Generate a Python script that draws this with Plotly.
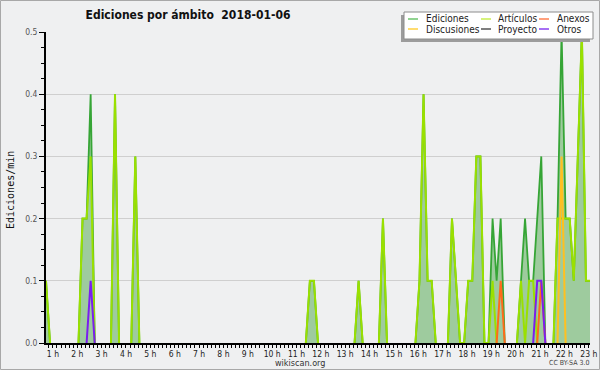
import plotly.graph_objects as go

# ---- data (10-minute samples, edits/min) ----
T0 = 43 / 60          # time of first sample, hours
STEP = 1 / 6          # 10 minutes

ediciones = [
    0.1, 0, 0, 0, 0, 0, 0, 0, 0, 0.2, 0.2, 0.4, 0, 0, 0,
    0, 0, 0.4, 0, 0, 0, 0, 0.3, 0, 0, 0, 0, 0, 0, 0,
    0, 0, 0, 0, 0, 0, 0, 0, 0, 0, 0, 0, 0, 0, 0,
    0, 0, 0, 0, 0, 0, 0, 0, 0, 0, 0, 0, 0, 0, 0,
    0, 0, 0, 0, 0, 0.1, 0.1, 0, 0, 0, 0, 0, 0, 0, 0,
    0, 0, 0.1, 0, 0, 0, 0, 0, 0.2, 0, 0, 0, 0, 0, 0,
    0, 0, 0.1, 0.4, 0.1, 0.1, 0, 0, 0, 0, 0.2, 0.1, 0, 0, 0.1,
    0.1, 0.3, 0.3, 0, 0, 0.2, 0.1, 0.2, 0, 0, 0, 0, 0.1, 0.2, 0.1,
    0.1, 0.2, 0.3, 0, 0, 0, 0.2, 0.5, 0.2, 0.2, 0.1, 0.3, 0.5, 0.1, 0.1,
]
articulos = [
    0.1, 0, 0, 0, 0, 0, 0, 0, 0, 0.2, 0.2, 0.3, 0, 0, 0,
    0, 0, 0.4, 0, 0, 0, 0, 0.3, 0, 0, 0, 0, 0, 0, 0,
    0, 0, 0, 0, 0, 0, 0, 0, 0, 0, 0, 0, 0, 0, 0,
    0, 0, 0, 0, 0, 0, 0, 0, 0, 0, 0, 0, 0, 0, 0,
    0, 0, 0, 0, 0, 0.1, 0.1, 0, 0, 0, 0, 0, 0, 0, 0,
    0, 0, 0.1, 0, 0, 0, 0, 0, 0.2, 0, 0, 0, 0, 0, 0,
    0, 0, 0.1, 0.4, 0.1, 0.1, 0, 0, 0, 0, 0.2, 0.1, 0, 0, 0.1,
    0.1, 0.3, 0.3, 0, 0, 0.1, 0, 0, 0, 0, 0, 0, 0.1, 0, 0.1,
    0.1, 0, 0, 0, 0, 0, 0.2, 0.2, 0.2, 0.2, 0.1, 0.3, 0.5, 0.1, 0.1,
]
anexos = [
    0, 0, 0, 0, 0, 0, 0, 0, 0, 0, 0, 0, 0, 0, 0,
    0, 0, 0, 0, 0, 0, 0, 0, 0, 0, 0, 0, 0, 0, 0,
    0, 0, 0, 0, 0, 0, 0, 0, 0, 0, 0, 0, 0, 0, 0,
    0, 0, 0, 0, 0, 0, 0, 0, 0, 0, 0, 0, 0, 0, 0,
    0, 0, 0, 0, 0, 0, 0, 0, 0, 0, 0, 0, 0, 0, 0,
    0, 0, 0, 0, 0, 0, 0, 0, 0, 0, 0, 0, 0, 0, 0,
    0, 0, 0, 0, 0, 0, 0, 0, 0, 0, 0, 0, 0, 0, 0,
    0, 0, 0, 0, 0, 0, 0, 0.1, 0, 0, 0, 0, 0, 0, 0,
    0, 0, 0.1, 0, 0, 0, 0, 0, 0, 0, 0, 0, 0, 0, 0,
]
discusiones = [
    0, 0, 0, 0, 0, 0, 0, 0, 0, 0, 0, 0, 0, 0, 0,
    0, 0, 0, 0, 0, 0, 0, 0, 0, 0, 0, 0, 0, 0, 0,
    0, 0, 0, 0, 0, 0, 0, 0, 0, 0, 0, 0, 0, 0, 0,
    0, 0, 0, 0, 0, 0, 0, 0, 0, 0, 0, 0, 0, 0, 0,
    0, 0, 0, 0, 0, 0, 0, 0, 0, 0, 0, 0, 0, 0, 0,
    0, 0, 0, 0, 0, 0, 0, 0, 0, 0, 0, 0, 0, 0, 0,
    0, 0, 0, 0, 0, 0, 0, 0, 0, 0, 0, 0, 0, 0, 0,
    0, 0, 0, 0, 0, 0, 0, 0, 0, 0, 0, 0, 0, 0, 0,
    0, 0, 0, 0, 0, 0, 0, 0.3, 0, 0, 0, 0, 0, 0, 0,
]
proyecto = [
    0, 0, 0, 0, 0, 0, 0, 0, 0, 0, 0, 0, 0, 0, 0,
    0, 0, 0, 0, 0, 0, 0, 0, 0, 0, 0, 0, 0, 0, 0,
    0, 0, 0, 0, 0, 0, 0, 0, 0, 0, 0, 0, 0, 0, 0,
    0, 0, 0, 0, 0, 0, 0, 0, 0, 0, 0, 0, 0, 0, 0,
    0, 0, 0, 0, 0, 0, 0, 0, 0, 0, 0, 0, 0, 0, 0,
    0, 0, 0, 0, 0, 0, 0, 0, 0, 0, 0, 0, 0, 0, 0,
    0, 0, 0, 0, 0, 0, 0, 0, 0, 0, 0, 0, 0, 0, 0,
    0, 0, 0, 0, 0, 0, 0, 0, 0, 0, 0, 0, 0, 0, 0,
    0, 0, 0, 0, 0, 0, 0, 0, 0, 0, 0, 0, 0, 0, 0,
]
otros = [
    0, 0, 0, 0, 0, 0, 0, 0, 0, 0, 0, 0.1, 0, 0, 0,
    0, 0, 0, 0, 0, 0, 0, 0, 0, 0, 0, 0, 0, 0, 0,
    0, 0, 0, 0, 0, 0, 0, 0, 0, 0, 0, 0, 0, 0, 0,
    0, 0, 0, 0, 0, 0, 0, 0, 0, 0, 0, 0, 0, 0, 0,
    0, 0, 0, 0, 0, 0, 0, 0, 0, 0, 0, 0, 0, 0, 0,
    0, 0, 0, 0, 0, 0, 0, 0, 0, 0, 0, 0, 0, 0, 0,
    0, 0, 0, 0, 0, 0, 0, 0, 0, 0, 0, 0, 0, 0, 0,
    0, 0, 0, 0, 0, 0, 0, 0, 0, 0, 0, 0, 0, 0, 0,
    0, 0.1, 0.1, 0, 0, 0, 0, 0, 0, 0, 0, 0, 0, 0, 0,
]

hour_ticks = list(range(1, 24))
hour_labels = [f"{h} h" for h in hour_ticks]
y_ticks = [0, 0.1, 0.2, 0.3, 0.4, 0.5]
y_labels = ["0.0", "0.1", "0.2", "0.3", "0.4", "0.5"]

series = [
    # name, values, plot colour, legend colour
    ("Ediciones", ediciones, "#36a536", "#6cc46c"),
    ("Artículos", articulos, "#9ae000", "#c8ee50"),
    ("Anexos", anexos, "#ff6a1a", "#ff8050"),
    ("Discusiones", discusiones, "#ffc020", "#ffd040"),
    ("Proyecto", proyecto, "#555555", "#555555"),
    ("Otros", otros, "#7a1ef0", "#8a40f0"),
]

times = [T0 + i * STEP for i in range(len(ediciones))]


def trimmed(vals):
    """hide long runs of zeros so that they do not paint the baseline"""
    out = []
    n = len(vals)
    for i, v in enumerate(vals):
        left = vals[i - 1] if i > 0 else 0
        right = vals[i + 1] if i < n - 1 else 0
        out.append(None if (v == 0 and left == 0 and right == 0) else v)
    return out


fig = go.Figure()
for idx, (name, vals, col, _) in enumerate(series):
    if idx == 0:
        fig.add_trace(go.Scatter(
            x=times, y=trimmed(vals), mode="lines", name=name,
            line=dict(color=col, width=1.8), fill="tozeroy",
            fillcolor="#9ecb9e", showlegend=False))
    else:
        fig.add_trace(go.Scatter(
            x=times, y=trimmed(vals), mode="lines", name=name,
            line=dict(color=col, width=2), showlegend=False))

# ---- layout geometry helpers (pixel -> paper) ----
L, R, T, B = 46, 10, 32, 27
W, H = 600, 370
PW, PH = W - L - R, H - T - B


def px(x):
    return (x - L) / PW


def py(y):
    return (H - B - y) / PH


COND = "DejaVu Sans Condensed, Liberation Sans Narrow, DejaVu Sans, sans-serif"

fig.update_layout(
    width=W, height=H,
    margin=dict(l=L, r=R, t=T, b=B, pad=0, autoexpand=False),
    paper_bgcolor="#eff0f1",
    plot_bgcolor="#eff0f1",
    showlegend=False,
    hovermode=False,
    title=dict(text="<b>Ediciones por ámbito  2018-01-06</b>",
               x=188 / W, xanchor="center", y=1 - 14.5 / H, yanchor="middle",
               font=dict(family="DejaVu Sans Condensed, Liberation Sans, sans-serif",
                         size=12, color="#111")),
    xaxis=dict(range=[T0, T0 + (len(ediciones) - 1) * STEP], automargin=False,
               tickmode="array", tickvals=hour_ticks, ticktext=hour_labels,
               ticks="outside", ticklen=2, tickwidth=1, tickcolor="#000",
               showline=True, linecolor="#000", linewidth=2,
               showgrid=False, zeroline=False,
               tickfont=dict(family=COND, size=8.5, color="#222"),
               minor=dict(dtick=STEP, tick0=0, ticks="outside", ticklen=3,
                          tickcolor="#000", showgrid=False)),
    yaxis=dict(range=[0, 0.5], automargin=False,
               tickmode="array", tickvals=y_ticks, ticktext=y_labels,
               ticks="outside", ticklen=5, tickwidth=1, tickcolor="#000",
               showline=True, linecolor="#000", linewidth=2,
               showgrid=True, gridcolor="#cfcfcf", gridwidth=1, zeroline=False,
               tickfont=dict(family=COND, size=8.5, color="#555"),
               minor=dict(dtick=0.025, ticks="outside", ticklen=3,
                          tickcolor="#000", showgrid=False)),
)

shapes = []
annotations = []
# outer frame
shapes.append(dict(type="rect", xref="paper", yref="paper",
                   x0=px(0.5), x1=px(599.5), y0=py(369.5), y1=py(0.5),
                   line=dict(color="#a8a8a8", width=1), layer="below"))
# legend box with shadow
shapes.append(dict(type="rect", xref="paper", yref="paper",
                   x0=px(401), x1=px(590), y0=py(42), y1=py(15),
                   fillcolor="#9c9c9c", line=dict(width=0), layer="above"))
shapes.append(dict(type="rect", xref="paper", yref="paper",
                   x0=px(404), x1=px(593), y0=py(39), y1=py(12),
                   fillcolor="#ffffff", line=dict(color="#8c8c8c", width=1), layer="above"))

legend_cols = [(408, 424), (481, 496), (539, 555)]
legend_rows = [19.0, 29.0]
legend_order = [0, 1, 2, 3, 4, 5]
for pos, si in enumerate(legend_order):
    name, _, _, lcol = series[si]
    r, c = divmod(pos, 3)
    lx, tx = legend_cols[c]
    yy = legend_rows[r]
    shapes.append(dict(type="line", xref="paper", yref="paper",
                       x0=px(lx), x1=px(lx + 10), y0=py(yy), y1=py(yy),
                       line=dict(color=lcol, width=1.5), layer="above"))
    annotations.append(dict(text=name, xref="paper", yref="paper",
                            x=px(tx), y=py(yy), xanchor="left", yanchor="middle",
                            showarrow=False,
                            font=dict(family=COND, size=10, color="#222")))

annotations.append(dict(text="Ediciones/min", xref="paper", yref="paper",
                        x=px(10), y=py(190), textangle=-90, showarrow=False,
                        xanchor="center", yanchor="middle",
                        font=dict(family="DejaVu Sans Mono, monospace", size=10, color="#111")))
annotations.append(dict(text="wikiscan.org", xref="paper", yref="paper",
                        x=px(300), y=py(363.5), showarrow=False,
                        xanchor="center", yanchor="middle",
                        font=dict(family=COND, size=9, color="#333")))
annotations.append(dict(text="CC BY-SA 3.0", xref="paper", yref="paper",
                        x=px(569), y=py(363.5), showarrow=False,
                        xanchor="center", yanchor="middle",
                        font=dict(family=COND, size=7, color="#444")))

fig.update_layout(shapes=shapes, annotations=annotations)
fig.write_html("out.html", config={"displayModeBar": False, "staticPlot": True},
               post_script="document.body.style.margin='0';")
